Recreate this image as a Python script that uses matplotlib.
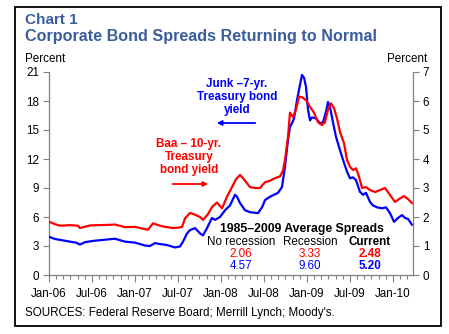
import matplotlib
matplotlib.use("Agg")
import matplotlib.pyplot as plt
from matplotlib.patches import Rectangle, FancyArrowPatch
import numpy as np

plt.rcParams['font.family'] = ['Liberation Sans', 'DejaVu Sans']

# ---- data (decimal year, percent) ----
baa_t = [2006.000, 2006.070, 2006.128, 2006.244, 2006.337, 2006.360, 2006.477, 2006.593,
         2006.709, 2006.767, 2006.884, 2007.000, 2007.058, 2007.151, 2007.209, 2007.291,
         2007.349, 2007.442, 2007.500, 2007.547, 2007.581, 2007.640, 2007.698, 2007.756,
         2007.791, 2007.849, 2007.895, 2007.953, 2008.012, 2008.070, 2008.128, 2008.174,
         2008.221, 2008.256, 2008.337, 2008.395, 2008.453, 2008.512, 2008.570, 2008.628,
         2008.686, 2008.721, 2008.744, 2008.779, 2008.802, 2008.837, 2008.872, 2008.907,
         2008.942, 2008.988, 2009.035, 2009.081, 2009.128, 2009.174, 2009.209, 2009.244,
         2009.279, 2009.314, 2009.349, 2009.384, 2009.430, 2009.465, 2009.500, 2009.535,
         2009.570, 2009.605, 2009.640, 2009.686, 2009.733, 2009.791, 2009.849, 2009.907,
         2009.965, 2010.023, 2010.081, 2010.128, 2010.174, 2010.221]
baa_v = [1.84, 1.75, 1.70, 1.72, 1.70, 1.62, 1.71, 1.72, 1.73, 1.74, 1.65, 1.66, 1.62, 1.56,
         1.78, 1.70, 1.66, 1.62, 1.63, 1.66, 1.95, 2.14, 2.08, 2.00, 1.90, 2.10, 2.34, 2.50,
         2.30, 2.70, 3.03, 3.30, 3.45, 3.34, 3.03, 3.00, 3.00, 3.20, 3.25, 3.34, 3.40, 3.60,
         3.97, 4.76, 5.60, 5.45, 5.70, 6.15, 6.13, 6.03, 5.80, 5.60, 5.27, 5.17, 5.27, 5.70,
         5.92, 5.75, 5.40, 4.93, 4.55, 3.97, 3.73, 3.62, 3.68, 3.39, 3.00, 3.03, 2.93, 2.86,
         2.93, 3.00, 2.76, 2.52, 2.64, 2.72, 2.62, 2.48]

junk_t = [2006.000, 2006.070, 2006.151, 2006.244, 2006.314, 2006.360, 2006.419, 2006.535,
          2006.651, 2006.767, 2006.826, 2006.884, 2007.000, 2007.116, 2007.174, 2007.233,
          2007.291, 2007.372, 2007.465, 2007.523, 2007.558, 2007.605, 2007.640, 2007.698,
          2007.756, 2007.791, 2007.837, 2007.895, 2007.930, 2007.988, 2008.047, 2008.105,
          2008.163, 2008.186, 2008.221, 2008.279, 2008.337, 2008.430, 2008.477, 2008.512,
          2008.570, 2008.663, 2008.709, 2008.744, 2008.779, 2008.802, 2008.826, 2008.849,
          2008.884, 2008.919, 2008.942, 2008.965, 2008.988, 2009.012, 2009.035, 2009.058,
          2009.105, 2009.151, 2009.186, 2009.221, 2009.244, 2009.267, 2009.302, 2009.337,
          2009.384, 2009.419, 2009.465, 2009.500, 2009.535, 2009.570, 2009.616, 2009.651,
          2009.686, 2009.733, 2009.767, 2009.814, 2009.872, 2009.919, 2009.965, 2010.012,
          2010.058, 2010.105, 2010.140, 2010.174, 2010.221]
junk_v = [3.96, 3.72, 3.60, 3.45, 3.35, 3.15, 3.40, 3.55, 3.65, 3.75, 3.60, 3.45, 3.35, 3.05,
          3.00, 3.30, 3.20, 3.10, 2.85, 2.95, 3.45, 4.30, 4.65, 4.85, 4.30, 4.10, 4.85, 5.90,
          5.70, 6.00, 6.70, 7.20, 8.30, 8.10, 7.45, 6.70, 6.50, 6.40, 7.00, 7.75, 8.10, 8.50,
          9.10, 11.2, 14.0, 15.3, 15.7, 16.2, 18.1, 19.7, 20.7, 20.4, 19.5, 17.1, 16.0, 16.3,
          16.2, 15.7, 15.8, 16.9, 17.9, 17.4, 15.8, 14.3, 12.9, 11.9, 10.7, 10.0, 10.1, 9.8,
          8.6, 8.3, 8.5, 7.55, 7.2, 7.0, 6.9, 7.0, 6.4, 5.5, 5.9, 6.2, 5.9, 5.8, 5.2]

tick_pos = [2006.0, 2006.5, 2007.0, 2007.5, 2008.0, 2008.5, 2009.0, 2009.5, 2010.0]
tick_labels = ['Jan-06', 'Jul-06', 'Jan-07', 'Jul-07', 'Jan-08', 'Jul-08', 'Jan-09',
               'Jul-09', 'Jan-10']

table_header = ['No recession', 'Recession', 'Current']
table_baa = ['2.06', '3.33', '2.48']
table_junk = ['4.57', '9.60', '5.20']

RED = '#FF0000'
BLUE = '#0000FF'
TITLE = '#3A5E9C'
GRAY = '#808080'
FS = 8.4

W, H = 449, 334
fig = plt.figure(figsize=(W / 100, H / 100), dpi=100)

def fx(px):
    return px / W

def fy(py):
    return 1 - py / H

# border
fig.patches.append(Rectangle((fx(15), fy(326)), fx(441) - fx(15), fy(7) - fy(326),
                             transform=fig.transFigure, fill=False, edgecolor='black',
                             linewidth=1.3))

ax = fig.add_axes([fx(49), fy(275), fx(413) - fx(49), fy(72) - fy(275)])
ax2 = ax.twinx()

ax.plot(junk_t, junk_v, color=BLUE, lw=1.6, zorder=3)
ax2.plot(baa_t, baa_v, color=RED, lw=1.6, zorder=2)

ax.set_xlim(2006.0, 2006 + (413 - 49) / 86)
ax.set_ylim(0, 21)
ax2.set_ylim(0, 7)
ax.set_yticks(np.arange(0, 22, 3))
ax2.set_yticks(np.arange(0, 8, 1))
ax.set_xticks(tick_pos)
ax.set_xticklabels(tick_labels)
ax.set_xticks(np.arange(2006.0, 2010.25, 1 / 12), minor=True)

for a in (ax, ax2):
    for s in a.spines.values():
        s.set_visible(False)
    a.tick_params(colors=GRAY, labelcolor='black', labelsize=FS, width=0.8)
ax.spines['left'].set_visible(True)
ax.spines['bottom'].set_visible(True)
ax2.spines['right'].set_visible(True)
for s in (ax.spines['left'], ax.spines['bottom'], ax2.spines['right']):
    s.set_color(GRAY)
    s.set_linewidth(0.9)
ax.tick_params(axis='y', length=4, pad=3)
ax2.tick_params(axis='y', length=4, pad=3)
ax.tick_params(axis='x', which='major', length=5, pad=4.5)
ax.tick_params(axis='x', which='minor', length=3, color=GRAY, width=0.8)

# titles
fig.text(fx(25), fy(20), 'Chart 1', color=TITLE, fontsize=11, fontweight='bold',
         va='center', ha='left')
fig.text(fx(25), fy(37), 'Corporate Bond Spreads Returning to Normal', color=TITLE,
         fontsize=11.6, fontweight='bold', va='center', ha='left')
fig.text(fx(25), fy(59), 'Percent', fontsize=FS, va='center', ha='left')
fig.text(fx(427), fy(59), 'Percent', fontsize=FS, va='center', ha='right')
fig.text(fx(25), fy(313), "SOURCES: Federal Reserve Board; Merrill Lynch; Moody's.",
         fontsize=FS, va='center', ha='left')

# annotations
fig.text(fx(237), fy(97), 'Junk \u20137-yr.\nTreasury bond\nyield', color=BLUE, fontsize=FS,
         fontweight='bold', ha='center', va='center', linespacing=1.12)
fig.patches.append(FancyArrowPatch((fx(258), fy(123)), (fx(214), fy(123)),
                                   transform=fig.transFigure, arrowstyle='-|>',
                                   mutation_scale=7, color=BLUE, lw=1.3))
fig.text(fx(189), fy(157), 'Baa \u2013 10-yr.\nTreasury\nbond yield', color=RED, fontsize=FS,
         fontweight='bold', ha='center', va='center', linespacing=1.12)
fig.patches.append(FancyArrowPatch((fx(170), fy(184)), (fx(211), fy(184)),
                                   transform=fig.transFigure, arrowstyle='-|>',
                                   mutation_scale=7, color=RED, lw=1.3))

# table
fig.text(fx(302), fy(229), '1985\u20132009 Average Spreads', fontsize=8.8, fontweight='bold',
         ha='center', va='center')
cols = [241, 310, 370]
for i, c in enumerate(cols):
    wt = 'bold' if i == 2 else 'normal'
    fig.text(fx(c), fy(242), table_header[i], fontsize=FS, fontweight=wt, ha='center', va='center')
    fig.text(fx(c), fy(254), table_baa[i], fontsize=FS, fontweight=wt, color=RED,
             ha='center', va='center')
    fig.text(fx(c), fy(266), table_junk[i], fontsize=FS, fontweight=wt, color=BLUE,
             ha='center', va='center')

fig.savefig('out.png', dpi=100)
